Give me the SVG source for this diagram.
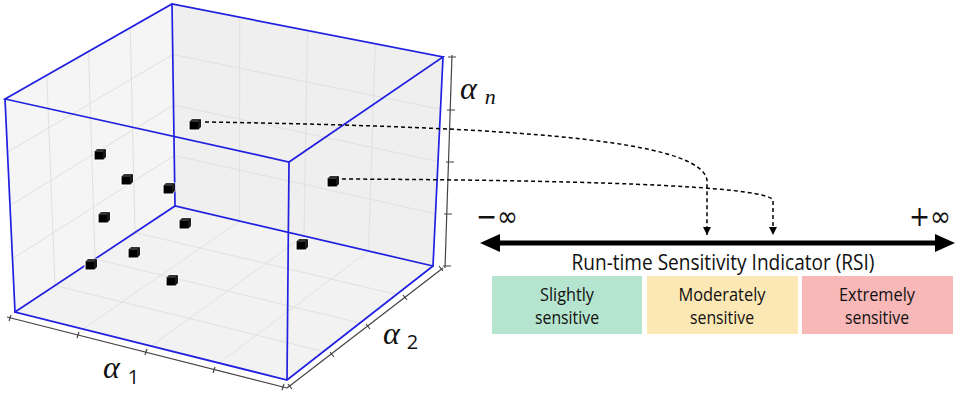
<svg xmlns="http://www.w3.org/2000/svg" width="957" height="393" viewBox="0 0 957 393">
<style>
.grid{stroke:#e0e0e0;stroke-width:1;fill:none}
.edge{stroke:#2020e0;stroke-width:1.7;fill:none;stroke-linecap:round}
.axis{stroke:#444;stroke-width:1.2;fill:none}
.dash{stroke:#000;stroke-width:1.5;fill:none;stroke-dasharray:4 3}
.lbl{font-family:"Liberation Serif","DejaVu Serif",serif;font-style:italic;font-size:32px;fill:#111}
.subi{font-family:"Liberation Serif","DejaVu Serif",serif;font-style:italic;font-size:22px;fill:#111}
.sub{font-family:"Open Sans","Noto Sans",sans-serif;font-size:20px;fill:#111;font-style:normal}
.txt{font-family:"Open Sans","Noto Sans",sans-serif;fill:#111}
.inf{font-family:"DejaVu Sans","Noto Sans",sans-serif;font-size:28px;fill:#111}
</style>
<defs>
<symbol id="pt" viewBox="-2 -2 16 15" width="16" height="15" overflow="visible">
<path d="M0,3 L3,0 L12,0 L12,8 L9,11 L0,11 Z" fill="#000" stroke="#fff" stroke-width="1.2"/>
<path d="M0,3 L3,0 L12,0 L9,3 Z" fill="#333"/>
<path d="M9,3 L12,0 L12,8 L9,11 Z" fill="#1a1a1a"/>
</symbol>
<marker id="ah" viewBox="0 0 8 8" refX="8" refY="4" markerWidth="8" markerHeight="8" orient="auto" markerUnits="userSpaceOnUse">
<path d="M0,0 L8,4 L0,8 Z" fill="#000"/>
</marker>
</defs>

<g id="plot">
<path d="M5,99 L172,4 L175,206 L15,312 Z" fill="#f5f5f5"/>
<path d="M172,4 L443,57 L433,266 L175,206 Z" fill="#efefef"/>
<path d="M175,206 L15,312 L287,380 L433,266 Z" fill="#f2f2f2"/>
<g class="grid">
<path d="M46.75,75.25 L55,285.5 M88.5,51.5 L95,259 M130.25,27.75 L135,232.5"/>
<path d="M7.5,152.25 L172.75,54.5 M10,205.5 L173.5,105 M12.5,258.75 L174.25,155.5"/>
<path d="M239.75,17.25 L239.5,221 M307.5,30.5 L304,236 M375.25,43.75 L368.5,251"/>
<path d="M172.75,54.5 L440.5,109.25 M173.5,105 L438,161.5 M174.25,155.5 L435.5,213.75"/>
<path d="M83,329 L239.5,221 M151,346 L304,236 M219,363 L368.5,251"/>
<path d="M135,232.5 L396.5,294.5 M95,259 L360,323 M55,285.5 L323.5,351.5"/>
</g>
<g class="axis">
<path d="M452,55 L445,268"/>
<path d="M448,57 L456,57 M447,110 L455,110 M446,162 L454,162 M444,214 L452,214 M443,266 L451,266"/>
<path d="M7,317 L287,388"/>
<path d="M11,315 L9,321 M79,332 L77,338 M147,349 L145,355 M215,367 L213,373 M284,384 L282,390"/>
<path d="M287,388 L443,268"/>
<path d="M288,384 L292,389 M330,352 L334,357 M366,324 L370,329 M403,295 L407,300 M439,266 L443,271"/>
</g>
<g class="edge">
<path d="M172,4 L175,206 M15,312 L175,206 L433,266"/>
</g>
<g id="points">
<use href="#pt" x="187" y="117"/>
<use href="#pt" x="92" y="147"/>
<use href="#pt" x="119" y="172"/>
<use href="#pt" x="161" y="181"/>
<use href="#pt" x="96" y="210"/>
<use href="#pt" x="177" y="216"/>
<use href="#pt" x="83" y="257"/>
<use href="#pt" x="126" y="245"/>
<use href="#pt" x="164" y="273"/>
<use href="#pt" x="294" y="237"/>
<use href="#pt" x="325" y="174"/>
</g>
<g class="edge">
<path d="M5,99 L172,4 L443,57 L289,162 L5,99 Z"/>
<path d="M5,99 L15,312 L287,380 L433,266 L443,57 M289,162 L287,380"/>
</g>
<text class="lbl" x="460" y="99">α<tspan class="subi" dx="8" dy="5">n</tspan></text>
<text class="lbl" x="103" y="378">α<tspan class="sub" dx="8" dy="6">1</tspan></text>
<text class="lbl" x="383" y="344">α<tspan class="sub" dx="7" dy="5">2</tspan></text>
</g>

<g id="connectors">
<path class="dash" d="M205,122 C520,127 700,140 707,180 L707,235" marker-end="url(#ah)"/>
<path class="dash" d="M342,179 C560,180 765,185 773,200 L773,235" marker-end="url(#ah)"/>
</g>

<g id="rsi-axis">
<path d="M497,243 L938,243" stroke="#000" stroke-width="5"/>
<path d="M480,243 L500,234 L500,252 Z" fill="#000"/>
<path d="M955,243 L935,234 L935,252 Z" fill="#000"/>
<text class="inf" x="476" y="226" textLength="42" lengthAdjust="spacingAndGlyphs">−∞</text>
<text class="inf" x="909" y="226" textLength="42" lengthAdjust="spacingAndGlyphs">+∞</text>
<text class="txt" x="723" y="270" font-size="21" text-anchor="middle" textLength="303" lengthAdjust="spacingAndGlyphs">Run-time Sensitivity Indicator (RSI)</text>
</g>

<g id="slightly">
<rect x="492" y="276" width="150" height="58" fill="#b6e5cf"/>
<text class="txt" x="567" y="301" font-size="18" text-anchor="middle" textLength="54" lengthAdjust="spacingAndGlyphs">Slightly</text>
<text class="txt" x="567" y="324" font-size="18" text-anchor="middle" textLength="64" lengthAdjust="spacingAndGlyphs">sensitive</text>
</g>
<g id="moderately">
<rect x="647" y="276" width="151" height="58" fill="#fce8b4"/>
<text class="txt" x="722" y="301" font-size="18" text-anchor="middle" textLength="87" lengthAdjust="spacingAndGlyphs">Moderately</text>
<text class="txt" x="722" y="324" font-size="18" text-anchor="middle" textLength="64" lengthAdjust="spacingAndGlyphs">sensitive</text>
</g>
<g id="extremely">
<rect x="802" y="276" width="151" height="58" fill="#f8b8b8"/>
<text class="txt" x="877" y="301" font-size="18" text-anchor="middle" textLength="76" lengthAdjust="spacingAndGlyphs">Extremely</text>
<text class="txt" x="877" y="324" font-size="18" text-anchor="middle" textLength="64" lengthAdjust="spacingAndGlyphs">sensitive</text>
</g>
</svg>
